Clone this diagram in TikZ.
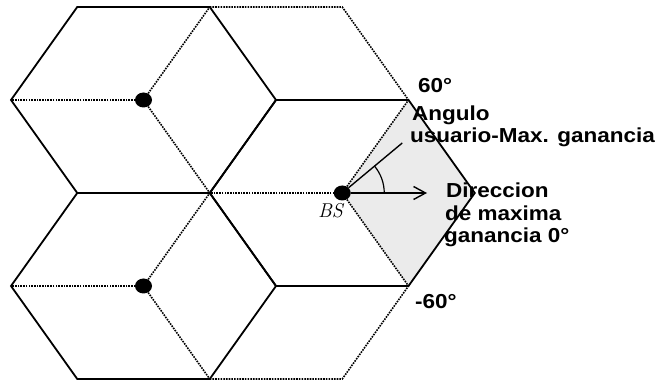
\documentclass[tikz,border=0pt]{standalone}
\usepackage{fontspec}
\setsansfont{Liberation Sans}
\usetikzlibrary{arrows.meta, positioning, shapes.geometric}

\begin{document}
\begin{tikzpicture}[
    x=1pt, y=1pt,
    cell/.style={line width=1.8pt, line join=miter},
    sector/.style={line width=1.6pt, dash pattern=on 1.6pt off 1.1pt},
    station/.style={ellipse, fill=black, inner sep=0pt, minimum width=17pt, minimum height=15pt},
    lbl/.style={font=\fontsize{22.5}{22.5}\selectfont\sffamily\bfseries, anchor=base west,
                inner sep=0pt, yscale=0.9},
    arr/.style={-{Straight Barb[length=12pt, width=13pt]}, line width=1.4pt},
]
\useasboundingbox (0,0) rectangle (663,385);

% Cell centres
\coordinate (c1) at (143.5,285);
\coordinate (c2) at (143.5,99);
\coordinate (c3) at (342.25,192);

% Shaded sector
\fill[black!8] (c3) -- ++(66.25,93) -- ++(66.25,-93) -- ++(-66.25,-93) -- cycle;

% Sector borders
\foreach \c in {c1,c2,c3} {
  \draw[sector] (\c) -- ++(-132.5,0);
  \draw[sector] (\c) -- ++(66.25,93);
  \draw[sector] (\c) -- ++(66.25,-93);
}
\draw[sector] (c1) ++(66.25,93) -- ++(132.5,0) -- ++(66.25,-93);
\draw[sector] (c2) ++(66.25,-93) -- ++(132.5,0) -- ++(66.25,93);

% Cells
\foreach \c in {c1,c2,c3}
  \draw[cell] (\c) ++(-132.5,0) -- ++(66.25,93) -- ++(132.5,0) -- ++(66.25,-93)
      -- ++(-66.25,-93) -- ++(-132.5,0) -- cycle;

% Base stations
\node[station] (bs1) at (c1) {};
\node[station] (bs2) at (c2) {};
\node[station] (bs3) at (c3) {};
\node[font=\fontsize{20}{20}\selectfont\itshape, anchor=base west, inner sep=0pt]
    (bslbl) at (318,167) {BS};

% Directions
\coordinate (maxdir) at (427,192);
\coordinate (user) at (402.25,242);
\draw[arr] (bs3) -- (maxdir);
\draw[line width=1.4pt] (bs3) -- (user);
\draw[line width=1.2pt] (c3) ++(42,0) arc[start angle=0, end angle=40, radius=42];

% Labels
\node[lbl] (up) at (418,292) {60°};
\node[lbl] (ang1) at (412,264) {Angulo};
\node[lbl] (ang2) at (410,242) {usuario-Max. ganancia};
\node[lbl] (dir1) at (446,187) {Direccion};
\node[lbl] (dir2) at (445,164) {de maxima};
\node[lbl] (dir3) at (444,142) {ganancia 0°};
\node[lbl] (down) at (415,76) {-60°};

\end{tikzpicture}
\end{document}
